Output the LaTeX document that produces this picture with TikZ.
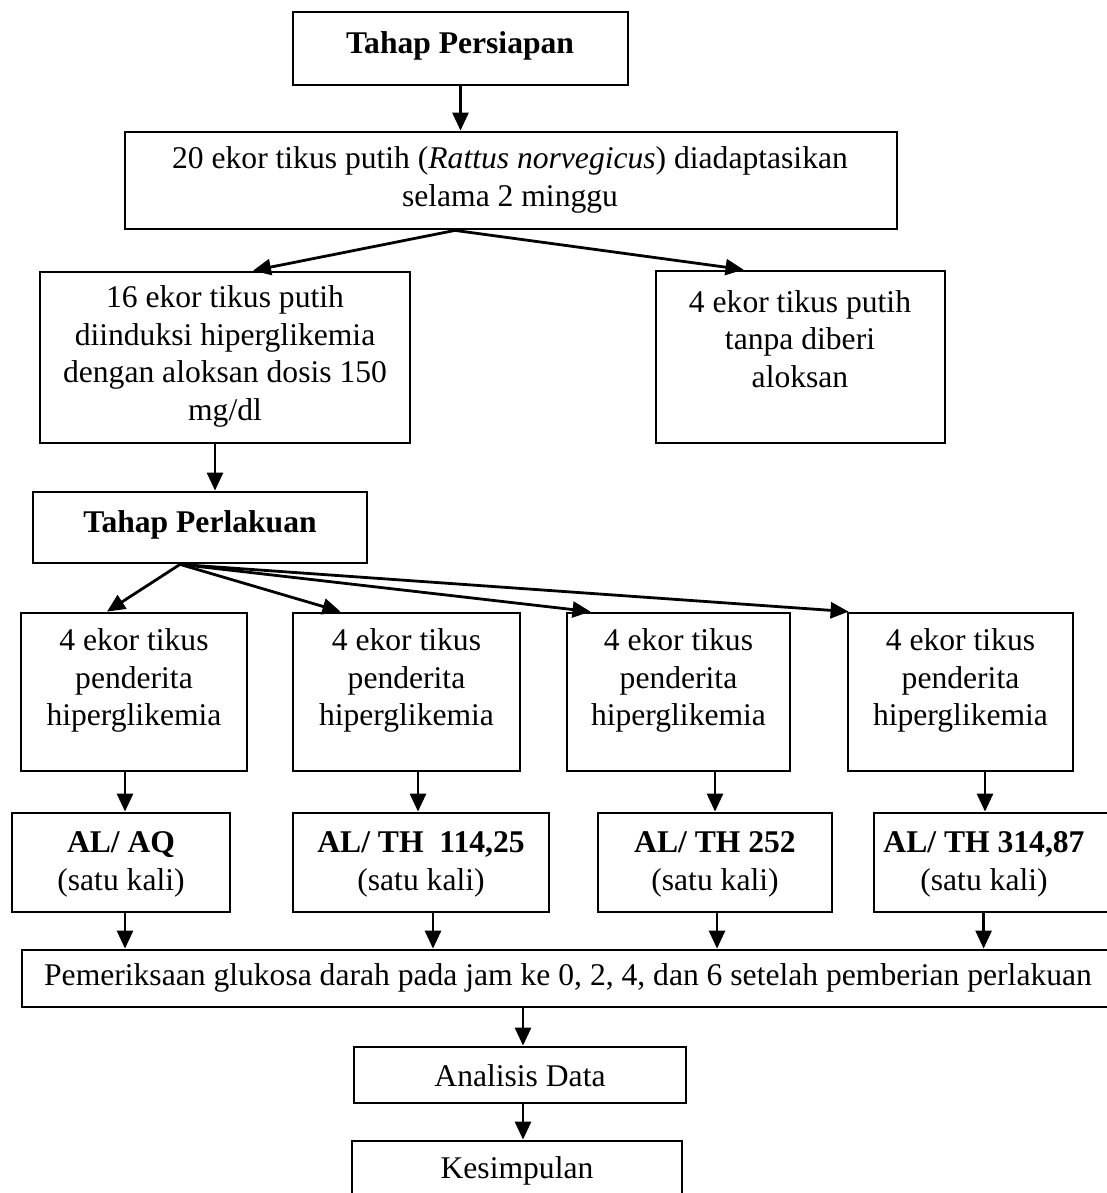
\documentclass[tikz,border=0pt]{standalone}
\usepackage{fontspec}
\setmainfont{Liberation Serif}
\usetikzlibrary{arrows.meta,calc}
\begin{document}
\begin{tikzpicture}[x=1pt,y=-1pt,
  box/.style={draw, line width=2.8pt, inner sep=0pt},
  txt/.style={align=center, inner sep=0pt, font=\fontsize{31.6}{37.6}\selectfont},
  btxt/.style={align=center, inner sep=0pt, font=\fontsize{31.6}{37.6}\selectfont\bfseries},
  arr/.style={line width=2.8pt, -{Triangle[length=18pt,width=16pt]}}]
\useasboundingbox (0,0) rectangle (1107,1193);
\clip (0,0) rectangle (1107,1193);

% boxes
\node[box, minimum width=335pt, minimum height=73pt] (tp) at (460.5,48.5) {};
\node[box, minimum width=772pt, minimum height=97pt] (b2) at (511,180.5) {};
\node[box, minimum width=370pt, minimum height=171pt] (b16) at (225,357.5) {};
\node[box, minimum width=289pt, minimum height=172pt] (btan) at (800.5,357) {};
\node[box, minimum width=334pt, minimum height=71pt] (tp2) at (200,527.5) {};
\node[box, minimum width=226pt, minimum height=158pt] (B1) at (134,692) {};
\node[box, minimum width=227pt, minimum height=158pt] (B2) at (406.5,692) {};
\node[box, minimum width=223pt, minimum height=158pt] (B3) at (678.5,692) {};
\node[box, minimum width=225pt, minimum height=158pt] (B4) at (960.5,692) {};
\node[box, minimum width=218pt, minimum height=99pt] (C1) at (121,862.5) {};
\node[box, minimum width=256pt, minimum height=99pt] (C2) at (421,862.5) {};
\node[box, minimum width=234pt, minimum height=99pt] (C3) at (715,862.5) {};
\node[box, minimum width=256pt, minimum height=99pt] (C4) at (1002,862.5) {};
\node[box, minimum width=1108pt, minimum height=57pt] (pem) at (576,978.5) {};
\node[box, minimum width=332pt, minimum height=56pt] (an) at (520,1075) {};
\node[box, minimum width=330pt, minimum height=89pt] (kes) at (517,1185.5) {};

% texts
\node[btxt] (ttp) at (460,46) {Tahap Persiapan};
\node[txt] (tb2) at (510,180) {20 ekor tikus putih (\textit{Rattus norvegicus}) diadaptasikan\\selama 2 minggu};
\node[txt] (tb16) at (225,356.5) {16 ekor tikus putih\\diinduksi hiperglikemia\\dengan aloksan dosis 150\\mg/dl};
\node[txt] (ttan) at (800,339) {4 ekor tikus putih\\tanpa diberi\\aloksan};
\node[btxt] (ttp2) at (200,525) {Tahap Perlakuan};
\node[txt] (tB1) at (134,680.5) {4 ekor tikus\\penderita\\hiperglikemia};
\node[txt] (tB2) at (406.5,680.5) {4 ekor tikus\\penderita\\hiperglikemia};
\node[txt] (tB3) at (678.5,680.5) {4 ekor tikus\\penderita\\hiperglikemia};
\node[txt] (tB4) at (960.5,680.5) {4 ekor tikus\\penderita\\hiperglikemia};
\node[txt] (tC1) at (121,864.5) {\textbf{AL/ AQ}\\(satu kali)};
\node[txt] (tC2) at (421,864.5) {\textbf{AL/ TH~~114,25}\\(satu kali)};
\node[txt] (tC3) at (715,864.5) {\textbf{AL/ TH 252}\\(satu kali)};
\node[txt] (tC4) at (984,864.5) {\textbf{AL/ TH 314,87}\\(satu kali)};
\node[txt] (tpem) at (568,978) {Pemeriksaan glukosa darah pada jam ke 0, 2, 4, dan 6 setelah pemberian perlakuan};
\node[txt] (tan) at (520,1076) {Analisis Data};
\node[txt] (tkes) at (517,1171) {Kesimpulan};

% connector points
\coordinate (o1) at ($(b2.south)+(-56,0)$);
\coordinate (s16) at ($(b16.south)+(-10,0)$);
\coordinate (o2) at ($(tp2.south)+(-20,0)$);
\coordinate (d1) at ($(B1.south)+(-9,0)$);
\coordinate (d2) at ($(B2.south)+(11.5,0)$);
\coordinate (d3) at ($(B3.south)+(36.5,0)$);
\coordinate (d4) at ($(B4.south)+(24.5,0)$);
\coordinate (e1) at ($(C1.south)+(4,0)$);
\coordinate (e2) at ($(C2.south)+(12,0)$);
\coordinate (e3) at ($(C3.south)+(2,0)$);
\coordinate (e4) at ($(C4.south west)+(111,0)$);
\coordinate (pa) at ($(an.north)+(3,0)$);
\coordinate (pk) at ($(kes.north)+(6,0)$);

% connectors
\draw[arr] (tp.south) -- (tp.south |- b2.north);
\draw[arr] (o1) -- ($(b16.north)+(28,0)$);
\draw[arr] (o1) -- ($(btan.north)+(-57,0)$);
\draw[arr] (s16) -- (s16 |- tp2.north);
\draw[arr] (o2) -- ($(B1.north)+(-27,0)$);
\draw[arr] (o2) -- ($(B2.north)+(-66,0)$);
\draw[arr] (o2) -- ($(B3.north)+(-88,0)$);
\draw[arr] (o2) -- ($(B4.north west)+(2,0)$);
\draw[arr] (d1) -- (d1 |- C1.north);
\draw[arr] (d2) -- (d2 |- C2.north);
\draw[arr] (d3) -- (d3 |- C3.north);
\draw[arr] (d4) -- (d4 |- C4.north);
\draw[arr] (e1) -- (e1 |- pem.north);
\draw[arr] (e2) -- (e2 |- pem.north);
\draw[arr] (e3) -- (e3 |- pem.north);
\draw[arr] (e4) -- (e4 |- pem.north);
\draw[arr] (pa |- pem.south) -- (pa);
\draw[arr] (pk |- an.south) -- (pk);
\end{tikzpicture}
\end{document}
